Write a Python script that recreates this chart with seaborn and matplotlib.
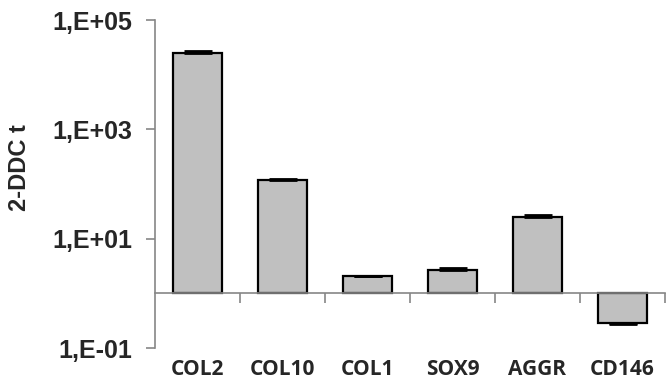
import numpy as np
import pandas as pd
import matplotlib
matplotlib.use("Agg")
import matplotlib.pyplot as plt
import seaborn as sns
from matplotlib.ticker import NullLocator, FixedLocator

# ---- data ----
genes = ["COL2", "COL10", "COL1", "SOX9", "AGGR", "CD146"]
fold_change = [25000, 119, 2.1, 2.65, 25, 0.285]
err_up = [2300, 2, 0, 0.22, 2.6, 0]
err_down = [0, 0, 0, 0, 0, 0.006]
ytick_values = [0.1, 10, 1000, 100000]
ytick_labels = ["1,E-01", "1,E+01", "1,E+03", "1,E+05"]
ylabel = "2-DDC t"

sns.set_theme(style="ticks")
plt.rcParams["font.family"] = ["Liberation Sans", "DejaVu Sans"]

W, H = 666, 384
fig = plt.figure(figsize=(W / 100, H / 100), dpi=100)
ax = fig.add_axes([155 / W, 1 - 348 / H, 510 / W, 328 / H])

df = pd.DataFrame({"gene": genes, "fold": fold_change})
sns.barplot(data=df, x="gene", y="fold", ax=ax, color="#c0c0c0",
            saturation=1, edgecolor="black", linewidth=1.6, width=0.57,
            errorbar=None)
ax.set_yscale("log")
# bars start at 1 (Excel-style log axis crossing at 1)
for p in ax.patches:
    h = p.get_height()
    p.set_y(1)
    p.set_height(h - 1)

ax.errorbar(x=np.arange(len(genes)), y=fold_change, yerr=[err_down, err_up],
            fmt="none", ecolor="black", elinewidth=1.4, capsize=10,
            capthick=2.0, zorder=5)

ax.set_xlim(-0.5, len(genes) - 0.5)
ax.set_ylim(0.1, 1e5)

grey = "#868686"
for s in ["top", "right"]:
    ax.spines[s].set_visible(False)
ax.spines["left"].set_color(grey)
ax.spines["left"].set_linewidth(1.2)
ax.spines["bottom"].set_position(("data", 1))
ax.spines["bottom"].set_color(grey)
ax.spines["bottom"].set_linewidth(1.2)

ax.yaxis.set_major_locator(FixedLocator(ytick_values))
ax.set_yticklabels(ytick_labels)
ax.yaxis.set_minor_locator(NullLocator())
ax.tick_params(axis="y", which="major", left=True, length=6.5, width=1.2,
               color=grey, pad=10, direction="out")
for t in ax.get_yticklabels():
    t.set_fontsize(18)
    t.set_fontweight("bold")
    t.set_family(["Liberation Sans", "DejaVu Sans"])

ax.set_xticks(np.arange(len(genes)) + 0.5, minor=True)
ax.tick_params(axis="x", which="major", bottom=True, length=0, pad=47)
ax.tick_params(axis="x", which="minor", bottom=True, length=7.5, width=1.2,
               color=grey, direction="out")
ax.set_xticks(np.arange(len(genes)))
ax.set_xticklabels(genes)
for t in ax.get_xticklabels():
    t.set_fontsize(15)
    t.set_fontweight("bold")
    t.set_family(["Open Sans", "DejaVu Sans"])

ax.set_xlabel("")
ax.set_ylabel("")
fig.text(19 / W, 1 - 168 / H, ylabel, rotation=90, ha="center", va="center",
         fontsize=17, fontweight="bold", family=["Liberation Sans", "DejaVu Sans"])

fig.savefig("out.png", dpi=100)
